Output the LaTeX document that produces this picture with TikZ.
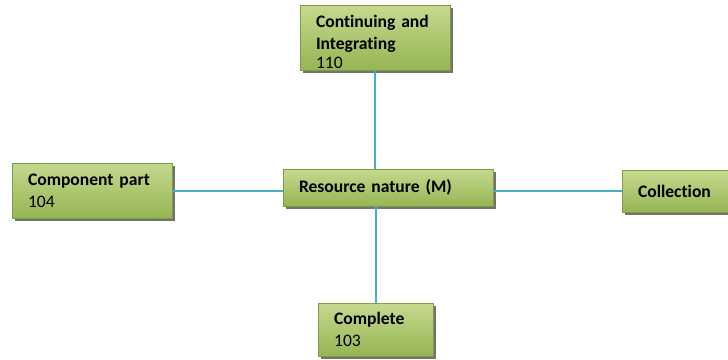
\documentclass[tikz,border=0pt]{standalone}
\usepackage{fontspec}
\setmainfont{Carlito}[Ligatures=NoCommon]
\usetikzlibrary{positioning, shadows}
\definecolor{boxtop}{HTML}{C6D98F}
\definecolor{boxbot}{HTML}{95B552}
\definecolor{boxline}{HTML}{7E9C45}
\definecolor{linkblue}{HTML}{4BACC6}
\tikzset{
    typebox/.style={rectangle, draw=boxline, thin, top color=boxtop, bottom color=boxbot, outer sep=0pt,
        inner xsep=0.4cm, inner ysep=0pt, align=left, font=\fontsize{12.5}{15.5}\selectfont,
        drop shadow={shadow xshift=0.07cm, shadow yshift=-0.07cm, fill=black!65, opacity=0.85}},
    link/.style={draw=linkblue, line width=1.4pt}
}
\begin{document}
\begin{tikzpicture}
    \useasboundingbox (0,0) rectangle (18.2,-9);
    \node[typebox, minimum width=5.25cm, text width=4.45cm, minimum height=0.925cm] (nature) at (9.7,-4.69) {\textbf{Resource nature (M)}};
    \node[typebox, minimum width=3.75cm, text width=2.95cm, minimum height=1.625cm, above=2.475cm of nature, xshift=-0.325cm] (integrating) {\rule{0pt}{14.5pt}\textbf{Continuing and}\\\textbf{Integrating}\\[-2pt]110};
    \node[typebox, minimum width=4cm, text width=3.2cm, minimum height=1.375cm, left=2.775cm of nature, yshift=-0.075cm] (component) {\textbf{Component part}\\104};
    \node[typebox, minimum width=2.9cm, text width=2.1cm, minimum height=1.05cm, right=3.225cm of nature, yshift=-0.09cm] (collection) {\textbf{Collection}};
    \node[typebox, minimum width=2.875cm, text width=2.075cm, minimum height=1.325cm, below=2.425cm of nature, xshift=-0.31cm] (complete) {\textbf{Complete}\\103};

    \draw[link] (integrating.south) -- (integrating.south |- nature.north);
    \draw[link] (complete.north) -- (complete.north |- nature.south);
    \draw[link] (component.east) -- (component.east -| nature.west);
    \draw[link] (collection.west) -- (collection.west -| nature.east);
\end{tikzpicture}
\end{document}
